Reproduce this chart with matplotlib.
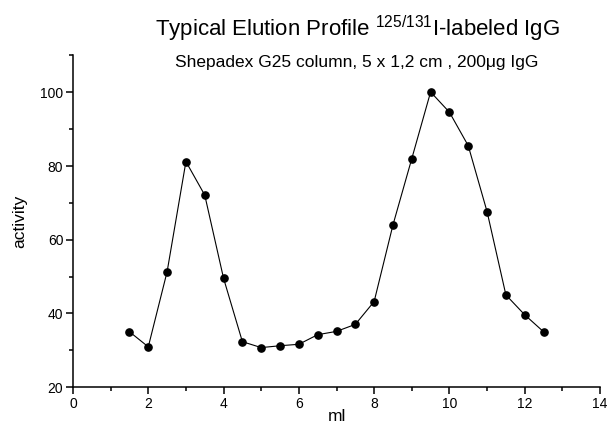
import matplotlib
matplotlib.use("Agg")
import matplotlib.pyplot as plt
from matplotlib.ticker import MultipleLocator

plt.rcParams['font.family'] = ['Liberation Sans', 'DejaVu Sans']
plt.rcParams['mathtext.fontset'] = 'custom'
plt.rcParams['mathtext.rm'] = 'Liberation Sans'
plt.rcParams['mathtext.it'] = 'Liberation Sans'

ml = [1.5, 2, 2.5, 3, 3.5, 4, 4.5, 5, 5.5, 6, 6.5, 7, 7.5,
      8, 8.5, 9, 9.5, 10, 10.5, 11, 11.5, 12, 12.5]
activity = [35.0, 30.9, 51.3, 81.2, 72.1, 49.5, 32.3, 30.7, 31.2, 31.6, 34.2, 35.1, 37.0,
            43.2, 64.0, 82.0, 100.1, 94.6, 85.5, 67.6, 45.0, 39.6, 35.0]

title = "Typical Elution Profile $^{\\mathregular{125/131}}$I-labeled IgG"
subtitle = "Shepadex G25 column, 5 x 1,2 cm , 200\u03bcg IgG"

fig = plt.figure(figsize=(6.09, 4.23), dpi=100)
ax = fig.add_axes([73/609, 1-387/423, (600-73)/609, (387-55.5)/423])

ax.plot(ml, activity, color='black', lw=0.8, marker='o', markersize=5.2, zorder=3)

ax.set_xlim(0, 14)
ax.set_ylim(20, 110)
ax.xaxis.set_major_locator(MultipleLocator(2))
ax.xaxis.set_minor_locator(MultipleLocator(1))
ax.yaxis.set_major_locator(MultipleLocator(20))
ax.yaxis.set_minor_locator(MultipleLocator(10))
ax.set_yticks([20, 40, 60, 80, 100])

for s in ['top', 'right']:
    ax.spines[s].set_visible(False)
for s in ['left', 'bottom']:
    ax.spines[s].set_linewidth(1.1)

ax.tick_params(which='major', direction='out', length=5, width=1.1, labelsize=10, pad=2)
ax.tick_params(which='minor', direction='out', length=3, width=1.1)

ax.set_xlabel('ml', fontsize=12.5, labelpad=-1)
ax.set_ylabel('activity', fontsize=12.5, labelpad=9)

fig.text(357/609, 1-36.7/423, title, ha='center', va='baseline', fontsize=16)
fig.text(357/609, 1-66.7/423, subtitle, ha='center', va='baseline', fontsize=12.5)

fig.savefig('out.png', dpi=100)
